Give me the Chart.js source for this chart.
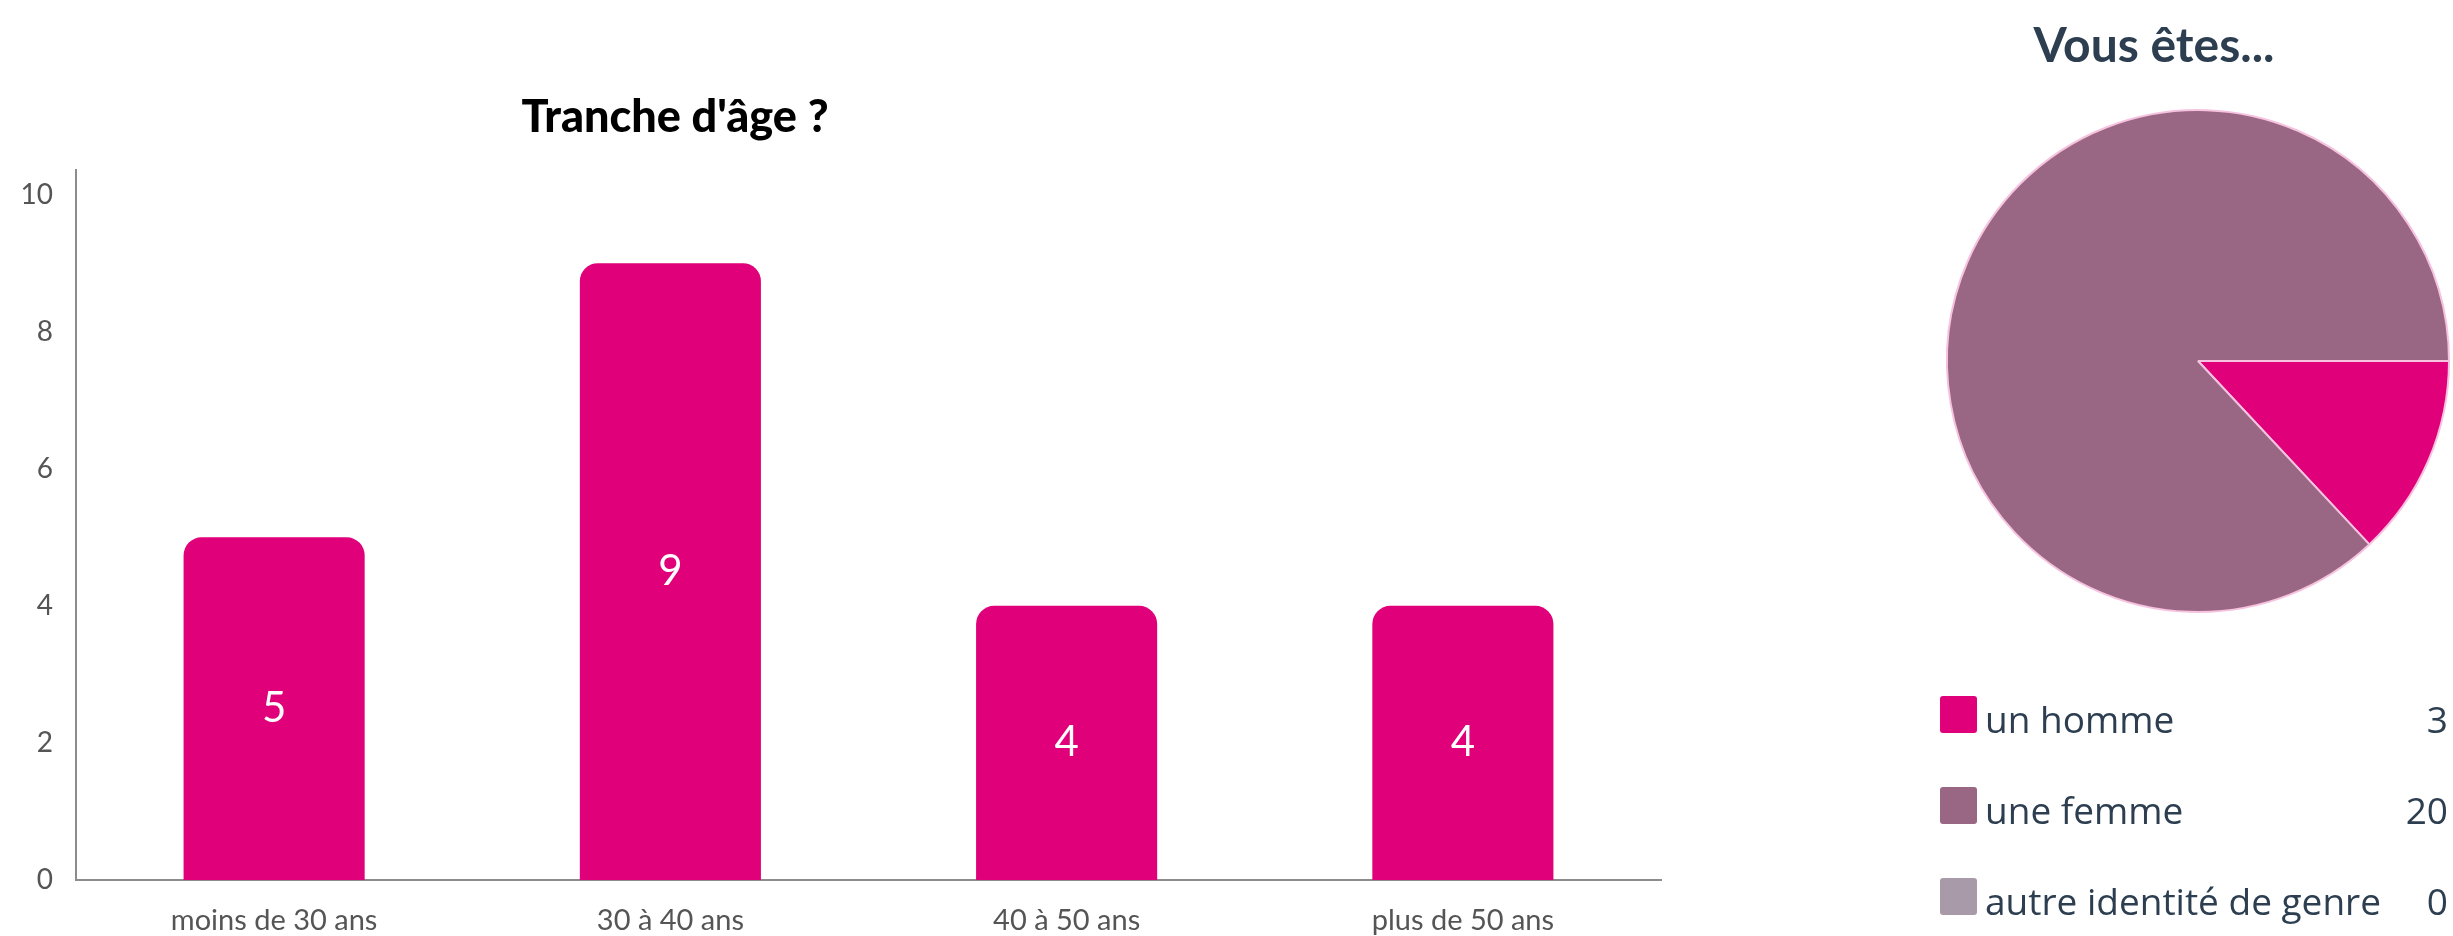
<!DOCTYPE html>
<html lang="fr">
<head>
<meta charset="utf-8">
<title>Tranche d'âge ? / Vous êtes...</title>
<script src="https://cdn.jsdelivr.net/npm/chart.js@4.4.1/dist/chart.umd.min.js"></script>
<style>
  html, body { margin: 0; padding: 0; background: #ffffff; }
  body { width: 2453px; height: 936px; position: relative; overflow: hidden; }
  #barBox { position: absolute; left: 0; top: 0; width: 1700px; height: 936px; }
  #pieBox { position: absolute; left: 1880px; top: 0; width: 573px; height: 936px; }
</style>
</head>
<body>
<div id="barBox"><canvas id="barChart"></canvas></div>
<div id="pieBox"><canvas id="pieChart"></canvas></div>
<script>
// ---- Survey data ----
const ageTitle = "Tranche d'âge ?";
const ageCategories = ['moins de 30 ans', '30 à 40 ans', '40 à 50 ans', 'plus de 50 ans'];
const ageCounts = [5, 9, 4, 4];
const ageTicks = [0, 2, 4, 6, 8, 10];

const genderTitle = 'Vous êtes...';
const genderLabels = ['un homme', 'une femme', 'autre identité de genre'];
const genderCounts = [3, 20, 0];
const genderColors = ['#e0007a', '#996783', '#a99aa9'];

const barColor = '#e0007a';
const textDark = '#2c3e50';
const tickColor = '#555555';

// Title drawn at a fixed spot of its canvas
const fixedTitle = {
  id: 'fixedTitle',
  afterDraw(chart, args, opts) {
    const ctx = chart.ctx;
    ctx.save();
    ctx.font = opts.font;
    ctx.fillStyle = opts.color;
    ctx.textAlign = 'center';
    ctx.textBaseline = 'alphabetic';
    ctx.fillText(opts.text, opts.x, opts.y);
    ctx.restore();
  }
};

// Value printed in the middle of each bar
const barValues = {
  id: 'barValues',
  afterDatasetsDraw(chart) {
    const ctx = chart.ctx;
    const meta = chart.getDatasetMeta(0);
    const values = chart.data.datasets[0].data;
    ctx.save();
    ctx.font = '400 42px Lato, "Open Sans", sans-serif';
    ctx.fillStyle = '#ffffff';
    ctx.textAlign = 'center';
    ctx.textBaseline = 'middle';
    meta.data.forEach((bar, i) => {
      const p = bar.getProps(['x', 'y', 'base'], true);
      ctx.fillText(String(values[i]), p.x, (p.y + p.base) / 2);
    });
    ctx.restore();
  }
};

// Legend list with counts aligned on the right
const countLegend = {
  id: 'countLegend',
  afterDraw(chart, args, opts) {
    const ctx = chart.ctx;
    const ds = chart.data.datasets[0];
    ctx.save();
    ctx.font = '37px "Open Sans", sans-serif';
    ctx.textBaseline = 'alphabetic';
    chart.data.labels.forEach((label, i) => {
      const base = opts.firstBaseline + i * opts.rowGap;
      const s = opts.box;
      ctx.fillStyle = ds.backgroundColor[i];
      ctx.beginPath();
      ctx.roundRect(opts.boxX, base - s, s, s, 3);
      ctx.fill();
      ctx.fillStyle = textDark;
      ctx.textAlign = 'left';
      ctx.fillText(label, opts.textX, base);
      ctx.textAlign = 'right';
      ctx.fillText(String(ds.data[i]), opts.valueX, base);
    });
    ctx.restore();
  }
};

new Chart(document.getElementById('barChart'), {
  type: 'bar',
  data: {
    labels: ageCategories,
    datasets: [{
      data: ageCounts,
      backgroundColor: barColor,
      borderRadius: 18,
      borderSkipped: 'start',
      categoryPercentage: 1,
      barPercentage: 0.457
    }]
  },
  options: {
    responsive: true,
    maintainAspectRatio: false,
    animation: false,
    layout: { padding: { top: 170, right: 39, left: 0, bottom: 0 } },
    plugins: {
      legend: { display: false },
      tooltip: { enabled: false },
      fixedTitle: {
        text: ageTitle,
        font: '900 45px Lato, "Open Sans", sans-serif',
        color: '#000000',
        x: 675,
        y: 132
      }
    },
    scales: {
      x: {
        grid: { display: false, drawTicks: false },
        border: { display: true, color: '#8c8c8c', width: 2 },
        ticks: {
          color: tickColor,
          font: { family: 'Lato, "Open Sans", sans-serif', size: 29 },
          padding: 23,
          maxRotation: 0
        },
        afterFit(scale) { scale.height = 56; }
      },
      y: {
        min: 0,
        max: 10.36,
        grid: { display: false, drawTicks: false },
        border: { display: true, color: '#8c8c8c', width: 2 },
        afterBuildTicks(scale) { scale.ticks = ageTicks.map(v => ({ value: v })); },
        ticks: {
          color: tickColor,
          font: { family: 'Lato, "Open Sans", sans-serif', size: 28 },
          padding: 23,
          includeBounds: false
        },
        afterFit(scale) { scale.width = 76; }
      }
    }
  },
  plugins: [fixedTitle, barValues]
});

new Chart(document.getElementById('pieChart'), {
  type: 'pie',
  data: {
    labels: genderLabels,
    datasets: [{
      data: genderCounts,
      backgroundColor: genderColors,
      borderColor: '#f6c2df',
      borderWidth: 2
    }]
  },
  options: {
    responsive: true,
    maintainAspectRatio: false,
    animation: false,
    rotation: 90,
    layout: { padding: { top: 109, bottom: 323, left: 66, right: 3 } },
    plugins: {
      legend: { display: false },
      tooltip: { enabled: false },
      fixedTitle: {
        text: genderTitle,
        font: 'bold 48px Lato, "Open Sans", sans-serif',
        color: textDark,
        x: 274,
        y: 62
      },
      countLegend: {
        boxX: 60,
        box: 37,
        textX: 105,
        valueX: 568,
        firstBaseline: 733,
        rowGap: 91
      }
    }
  },
  plugins: [fixedTitle, countLegend]
});
</script>
</body>
</html>
